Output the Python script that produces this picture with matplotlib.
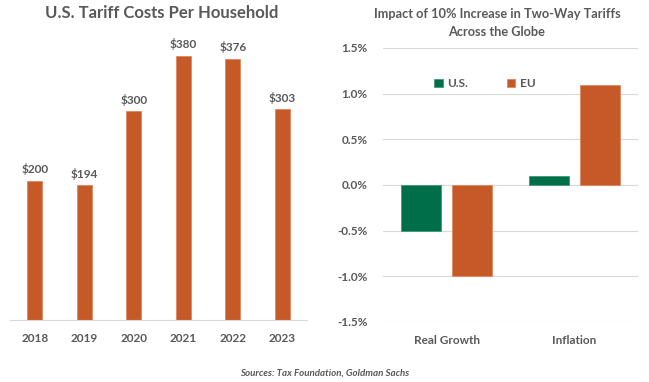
import matplotlib.pyplot as plt
import numpy as np

# Left panel: tariff costs per household
years = ["2018", "2019", "2020", "2021", "2022", "2023"]
costs = [200, 194, 300, 380, 376, 303]

# Right panel: impact of 10% two-way tariffs
impact_cats = ["Real Growth", "Inflation"]
us_impact = [-0.5, 0.1]
eu_impact = [-1.0, 1.1]

ORANGE = "#C55A28"
GREEN = "#006E49"
TEXT = "#595959"
GRID = "#D9D9D9"

plt.rcParams["font.family"] = ["Lato", "DejaVu Sans"]

fig = plt.figure(figsize=(6.49, 3.82), dpi=100)

# ---- left chart
ax1 = fig.add_axes([10 / 649, 1 - 320 / 382, 297 / 649, 278 / 382])
x = np.arange(len(years))
ax1.bar(x, costs, width=0.3, color=ORANGE, edgecolor="#E0875E", linewidth=0.6)
for xi, v in zip(x, costs):
    ax1.text(xi, v + 8, f"${v}", ha="center", va="bottom", fontsize=8.5,
             fontweight="bold", color=TEXT)
ax1.set_xlim(-0.5, len(years) - 0.5)
ax1.set_ylim(0, 400)
ax1.set_xticks(x, years)
ax1.set_yticks([])
for s in ["top", "right", "left"]:
    ax1.spines[s].set_visible(False)
ax1.spines["bottom"].set_color(GRID)
ax1.tick_params(axis="x", length=0, pad=9, labelsize=8.5, labelcolor=TEXT)
for lbl in ax1.get_xticklabels():
    lbl.set_fontweight("bold")
fig.text(162 / 649, 1 - 13 / 382, "U.S. Tariff Costs Per Household", ha="center",
         va="center", fontsize=12, fontweight="bold", color=TEXT)

# ---- right chart
ax2 = fig.add_axes([383 / 649, 1 - 322 / 382, 255 / 649, 274 / 382])
xi = np.arange(len(impact_cats))
ax2.bar(xi - 0.2, us_impact, width=0.314, color=GREEN, label="U.S.",
        edgecolor="#3F9A78", linewidth=0.6)
ax2.bar(xi + 0.2, eu_impact, width=0.314, color=ORANGE, label="EU",
        edgecolor="#E0875E", linewidth=0.6)
ax2.set_xlim(-0.5, len(impact_cats) - 0.5)
ax2.set_ylim(-1.5, 1.5)
ticks = np.arange(-1.5, 1.51, 0.5)
ax2.set_yticks(ticks, [f"{t:.1f}%" for t in ticks])
ax2.set_xticks(xi, impact_cats)
ax2.grid(axis="y", color=GRID, linewidth=0.8)
ax2.set_axisbelow(True)
for s in ax2.spines.values():
    s.set_visible(False)
ax2.tick_params(axis="both", length=0, labelsize=8.5, labelcolor=TEXT)
ax2.tick_params(axis="x", pad=9)
ax2.tick_params(axis="y", pad=11)
for lbl in ax2.get_xticklabels() + ax2.get_yticklabels():
    lbl.set_fontweight("bold")
leg = ax2.legend(loc="upper left", bbox_to_anchor=(0.16, 0.93), ncol=2, frameon=False,
                 fontsize=8.5, handlelength=0.7, handleheight=0.7, columnspacing=3.3,
                 handletextpad=0.4)
for t in leg.get_texts():
    t.set_color(TEXT)
    t.set_fontweight("bold")
fig.text(497 / 649, 1 - 23 / 382, "Impact of 10% Increase in Two-Way Tariffs\nAcross the Globe",
         ha="center", va="center", fontsize=9.2, fontweight="bold", color=TEXT,
         linespacing=1.5)

fig.text(325 / 649, 1 - 373 / 382, "Sources: Tax Foundation, Goldman Sachs", ha="center",
         va="center", fontsize=7, fontweight="bold", style="italic", color=TEXT)

fig.savefig("out.png", dpi=100)
